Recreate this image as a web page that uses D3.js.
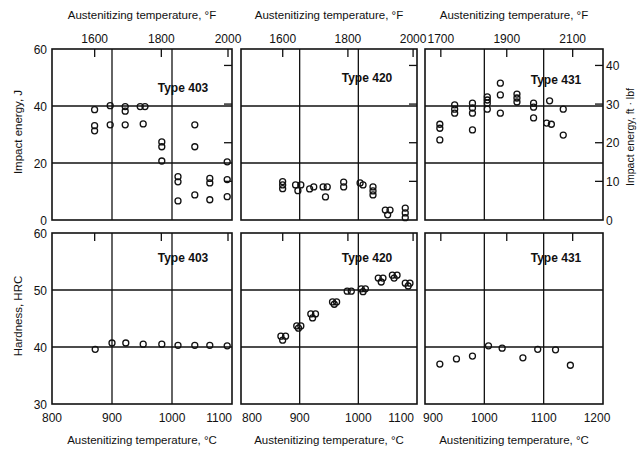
<!DOCTYPE html>
<html>
<head>
<meta charset="utf-8">
<script src="https://cdn.jsdelivr.net/npm/d3@7"></script>
<style>
  body { margin: 0; background: #fff; }
  svg text { font-family: "Liberation Sans", Arial, sans-serif; fill: #111; }
</style>
</head>
<body>
<div id="chart"></div>
<script>
//////////////////////////////////////
// Data (temperature in degC, value)
//////////////////////////////////////

const type_names = ['Type 403', 'Type 420', 'Type 431'];

const t403_impact = [
  [871, 38.7], [871, 33.1], [871, 31.3],
  [897, 40.1], [897, 33.4],
  [922, 39.8], [922, 38.2], [922, 33.4],
  [947, 39.8], [955, 39.8], [952, 33.7],
  [983, 27.4], [983, 25.7], [983, 20.7],
  [1010, 15.2], [1010, 13.4], [1010, 6.7],
  [1038, 33.4], [1038, 25.7], [1038, 8.8],
  [1063, 14.6], [1063, 13.0], [1063, 7.1],
  [1092, 20.4], [1092, 14.2], [1092, 8.2]
];
const t420_impact = [
  [871, 13.5], [871, 12.3], [871, 11.0],
  [893, 12.3], [902, 12.3], [897, 10.3],
  [917, 10.9], [924, 11.6],
  [940, 11.6], [947, 11.6], [944, 8.1],
  [975, 13.3], [975, 11.6],
  [1003, 13.0], [1008, 12.3],
  [1025, 11.6], [1025, 10.2], [1025, 8.8],
  [1046, 3.5], [1054, 3.5], [1050, 1.8],
  [1080, 4.2], [1080, 2.5], [1080, 0.8]
];
const t431_impact = [
  [925, 33.6], [925, 32.2], [925, 28.1],
  [950, 40.4], [950, 38.9], [950, 37.5],
  [980, 41.0], [980, 39.3], [980, 37.5], [980, 31.6],
  [1005, 43.2], [1005, 42.1], [1005, 41.0], [1005, 38.9],
  [1027, 48.0], [1027, 43.9], [1027, 37.5],
  [1055, 44.2], [1055, 42.8], [1055, 41.4],
  [1083, 41.0], [1083, 39.6], [1083, 35.8],
  [1105, 34.0], [1113, 33.6], [1110, 41.8],
  [1133, 38.9], [1133, 29.8]
];

const t403_hardness = [
  [872, 39.6], [900, 40.7], [923, 40.7], [952, 40.5], [983, 40.5],
  [1010, 40.3], [1038, 40.3], [1063, 40.3], [1092, 40.2]
];
const t420_hardness = [
  [868, 41.9], [876, 41.9], [871, 41.2],
  [895, 43.7], [902, 43.7], [898, 43.3],
  [919, 45.8], [927, 45.8], [922, 45.1],
  [956, 47.9], [963, 47.9], [959, 47.5],
  [981, 49.8], [988, 49.8],
  [1005, 50.2], [1012, 50.2], [1008, 49.7],
  [1034, 52.1], [1042, 52.1], [1039, 51.4],
  [1058, 52.6], [1066, 52.6], [1061, 52.1],
  [1080, 51.2], [1088, 51.2], [1085, 50.7]
];
const t431_hardness = [
  [925, 37.0], [953, 37.9], [980, 38.4], [1007, 40.2], [1030, 39.8],
  [1065, 38.1], [1090, 39.6], [1120, 39.5], [1145, 36.8]
];

// tick labels
const c_ticks_a = [800, 900, 1000, 1100];
const c_ticks_b = [900, 1000, 1100, 1200];
const f_ticks_a = [1600, 1800, 2000];
const f_ticks_b = [1700, 1900, 2100];
const j_ticks = [0, 20, 40, 60];
const ftlbf_ticks = [0, 10, 20, 30, 40];
const hrc_ticks = [30, 40, 50, 60];

//////////////////////////////////////
// Layout
//////////////////////////////////////

const W = 639, H = 450;

const cols = [
  { x0: 52, x1: 232, dom: [800, 1100], c_ticks: c_ticks_a, f_ticks: f_ticks_a, anchors: ['middle', 'middle', 'middle', 'end'], dx: [0, 0, 0, 0] },
  { x0: 241, x1: 417, dom: [800, 1100], c_ticks: c_ticks_a, f_ticks: f_ticks_a, anchors: ['start', 'middle', 'middle', 'end'], dx: [1, 0, 0, -3] },
  { x0: 425, x1: 603, dom: [900, 1200], c_ticks: c_ticks_b, f_ticks: f_ticks_b, anchors: ['start', 'middle', 'middle', 'middle'], dx: [-2, 0, 0, -6] }
];
const rows = [
  { y0: 49, y1: 220, dom: [0, 60], ticks: j_ticks, data: [t403_impact, t420_impact, t431_impact], label_y: [92, 82, 84] },
  { y0: 233, y1: 404, dom: [30, 60], ticks: hrc_ticks, data: [t403_hardness, t420_hardness, t431_hardness], label_y: [262, 262, 262] }
];
const label_x = [183, 367, 556];

function f_to_c (f) {
  return (f - 32) * 5 / 9;
}

let svg = d3.select('#chart').append('svg')
  .attr('width', W)
  .attr('height', H);

rows.forEach((row, ri) => {
  let y = d3.scaleLinear().domain(row.dom).range([row.y1, row.y0]);

  cols.forEach((col, ci) => {
    let x = d3.scaleLinear().domain(col.dom).range([col.x0, col.x1]);
    let g = svg.append('g');

    // grid lines (inner ticks only)
    let ygrid = row.ticks.slice(1, -1);
    let xgrid = col.c_ticks.slice(1, -1);
    g.selectAll('.hg').data(ygrid).enter().append('line')
      .attr('x1', col.x0).attr('x2', col.x1)
      .attr('y1', d => y(d)).attr('y2', d => y(d))
      .attr('stroke', '#111').attr('stroke-width', 1.3);
    g.selectAll('.vg').data(xgrid).enter().append('line')
      .attr('x1', d => x(d)).attr('x2', d => x(d))
      .attr('y1', row.y0).attr('y2', row.y1)
      .attr('stroke', '#111').attr('stroke-width', 1.3);

    // frame
    g.append('rect')
      .attr('x', col.x0).attr('y', row.y0)
      .attr('width', col.x1 - col.x0).attr('height', row.y1 - row.y0)
      .attr('fill', 'none').attr('stroke', '#111').attr('stroke-width', 1.6);

    // degF ticks on top edge
    g.selectAll('.ft').data(col.f_ticks).enter().append('line')
      .attr('x1', d => x(f_to_c(d))).attr('x2', d => x(f_to_c(d)))
      .attr('y1', row.y0).attr('y2', row.y0 + 8)
      .attr('stroke', '#111').attr('stroke-width', 1.3);

    // ft.lbf ticks on right edge of the impact row
    if (ri == 0) {
      g.selectAll('.rt').data(ftlbf_ticks.slice(1)).enter().append('line')
        .attr('x1', col.x1 - 8).attr('x2', col.x1)
        .attr('y1', d => y(d * 1.3558)).attr('y2', d => y(d * 1.3558))
        .attr('stroke', '#111').attr('stroke-width', 1.3);

      // degF tick labels above
      g.selectAll('.fl').data(col.f_ticks).enter().append('text')
        .attr('x', d => x(f_to_c(d)))
        .attr('y', 43)
        .attr('text-anchor', 'middle')
        .attr('font-size', 12)
        .text(d => d);

      g.append('text')
        .attr('x', (col.x0 + col.x1) / 2)
        .attr('y', 19)
        .attr('text-anchor', 'middle')
        .attr('font-size', 11.5)
        .text('Austenitizing temperature, °F');
    }
    else {
      // degC tick labels below
      g.selectAll('.cl').data(col.c_ticks).enter().append('text')
        .attr('x', (d, i) => x(d) + col.dx[i])
        .attr('y', 422)
        .attr('text-anchor', (d, i) => col.anchors[i])
        .attr('font-size', 12)
        .text(d => d);

      g.append('text')
        .attr('x', (col.x0 + col.x1) / 2)
        .attr('y', 444)
        .attr('text-anchor', 'middle')
        .attr('font-size', 11.5)
        .text('Austenitizing temperature, °C');
    }

    // points
    g.selectAll('circle').data(row.data[ci]).enter().append('circle')
      .attr('cx', d => x(d[0]))
      .attr('cy', d => y(d[1]))
      .attr('r', 3)
      .attr('fill', 'none')
      .attr('stroke', '#111')
      .attr('stroke-width', 1.3);

    g.append('text')
      .attr('x', label_x[ci])
      .attr('y', row.label_y[ci])
      .attr('text-anchor', 'middle')
      .attr('font-size', 12)
      .attr('font-weight', 'bold')
      .text(type_names[ci]);
  });

  // left axis labels
  svg.selectAll('.yl' + ri).data(row.ticks).enter().append('text')
    .attr('x', 47)
    .attr('y', d => y(d) + 4.5)
    .attr('text-anchor', 'end')
    .attr('font-size', 12)
    .text(d => d);

  // right axis labels (ft.lbf) on impact row
  if (ri == 0) {
    svg.selectAll('.rl').data(ftlbf_ticks).enter().append('text')
      .attr('x', 606)
      .attr('y', d => y(d * 1.3558) + 4.5)
      .attr('text-anchor', 'start')
      .attr('font-size', 12)
      .text(d => d);
  }
});

svg.append('text')
  .attr('transform', 'translate(22,132)rotate(-90)')
  .attr('text-anchor', 'middle')
  .attr('font-size', 11.5)
  .text('Impact energy, J');

svg.append('text')
  .attr('transform', 'translate(22,316)rotate(-90)')
  .attr('text-anchor', 'middle')
  .attr('font-size', 11.5)
  .text('Hardness, HRC');

svg.append('text')
  .attr('transform', 'translate(634,137)rotate(-90)')
  .attr('text-anchor', 'middle')
  .attr('font-size', 10.5)
  .text('Impact energy, ft · lbf');
</script>
</body>
</html>
